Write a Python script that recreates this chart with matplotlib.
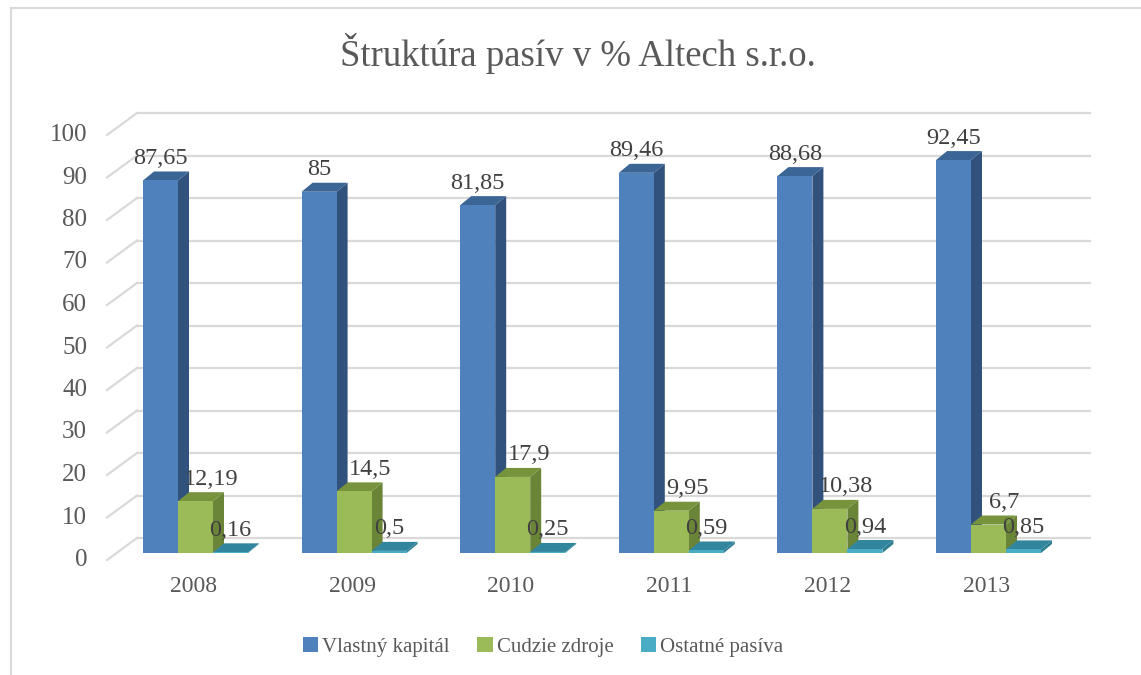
import matplotlib
matplotlib.use("Agg")
import matplotlib.pyplot as plt
from matplotlib.patches import Polygon, Rectangle, Patch
from matplotlib.lines import Line2D

# ---------------- data ----------------
years = ["2008", "2009", "2010", "2011", "2012", "2013"]
series_names = ["Vlastný kapitál", "Cudzie zdroje", "Ostatné pasíva"]
vlastny = [87.65, 85, 81.85, 89.46, 88.68, 92.45]
cudzie = [12.19, 14.5, 17.9, 9.95, 10.38, 6.7]
ostatne = [0.16, 0.5, 0.25, 0.59, 0.94, 0.85]
y_ticks = [0, 10, 20, 30, 40, 50, 60, 70, 80, 90, 100]
title = "Štruktúra pasív v % Altech s.r.o."

values = [vlastny, cudzie, ostatne]
front_cols = ["#4f81bd", "#9bbb59", "#4bacc6"]
side_cols = ["#30527c", "#6a8537", "#2c7f93"]
top_cols = ["#3b6595", "#77933c", "#31859c"]

# ---------------- geometry (pixel scales) ----------------
W, H = 1141, 675
fig = plt.figure(figsize=(W / 100, H / 100), dpi=100)
PX_X = 158.6   # pixels per category
PX_Y = 4.25    # pixels per value unit
X0 = 195.5     # pixel x of category 0 centre
Y0 = 553       # pixel y (from top) of value 0 at bar plane
ax_l, ax_r, ax_t, ax_b = 100, 1100, 100, 600
ax = fig.add_axes([ax_l / W, 1 - ax_b / H, (ax_r - ax_l) / W, (ax_b - ax_t) / H])
ax.set_xlim((ax_l - X0) / PX_X, (ax_r - X0) / PX_X)
ax.set_ylim((Y0 - ax_b) / PX_Y, (Y0 - ax_t) / PX_Y)
ax.axis("off")

def dx(px):
    return px / PX_X

def dy(px):
    return px / PX_Y

grid_col = "#d9d9d9"
# front-left plane / back wall offsets (relative to bar plane)
fx, fy = dx(107 - X0), dy(-7)
bx, by = dx(137 - X0), dy(15)
rx = dx(1090 - X0)
for v in y_ticks:
    ax.add_line(Line2D([fx, bx], [v + fy, v + by], color=grid_col, lw=1.6, zorder=1))
    ax.add_line(Line2D([bx, rx], [v + by, v + by], color=grid_col, lw=1.6, zorder=1))
    ax.text(fx - dx(20), v + fy, str(v), ha="right", va="center",
            fontsize=18, color="#595959", family="Liberation Serif")

# ---------------- bars ----------------
w = dx(35)
ddx, ddy = dx(11), dy(9)
label_shift = [0, dx(16), 0]
for i in range(len(years)):
    for s in range(3):
        v = values[s][i]
        x_l = i + (s - 1.5) * w
        x_r = x_l + w
        ax.add_patch(Polygon([(x_r, 0), (x_r, v), (x_r + ddx, v + ddy), (x_r + ddx, ddy)],
                             closed=True, fc=side_cols[s], ec="none", zorder=2))
        ax.add_patch(Polygon([(x_l, v), (x_r, v), (x_r + ddx, v + ddy), (x_l + ddx, v + ddy)],
                             closed=True, fc=top_cols[s], ec="none", zorder=2))
        ax.add_patch(Rectangle((x_l, 0), w, max(v, dy(1.5)), fc=front_cols[s], ec="none", zorder=2))
        lab = f"{v:g}".replace(".", ",")
        ax.text(x_l + w / 2 + label_shift[s], v + dy(22), lab, ha="center", va="center",
                fontsize=17.5, color="#404040", family="Liberation Serif", zorder=5)
    ax.text(i - dx(2), dy(-33), years[i], ha="center", va="center",
            fontsize=17, color="#595959", family="Liberation Serif")

# ---------------- title, legend, border ----------------
fig.text(578 / W, 1 - 53 / H, title, ha="center", va="center", fontsize=26.5,
         color="#595959", family="Liberation Serif")

handles = [Patch(fc=c, ec="none") for c in front_cols]
fig.legend(handles, series_names, loc="center", bbox_to_anchor=(543 / W, 1 - 647 / H),
           ncol=3, frameon=False, handlelength=0.75, handleheight=0.75, handletextpad=0.2,
           columnspacing=1.3, prop={"family": "Liberation Serif", "size": 15},
           labelcolor="#595959")

fig.add_artist(Line2D([10.5 / W, 10.5 / W], [0, 1 - 8 / H], color="#d9d9d9", lw=1.5,
                      transform=fig.transFigure))
fig.add_artist(Line2D([10.5 / W, 1], [1 - 8 / H, 1 - 8 / H], color="#d9d9d9", lw=1.5,
                      transform=fig.transFigure))

fig.savefig("out.png", dpi=100)
